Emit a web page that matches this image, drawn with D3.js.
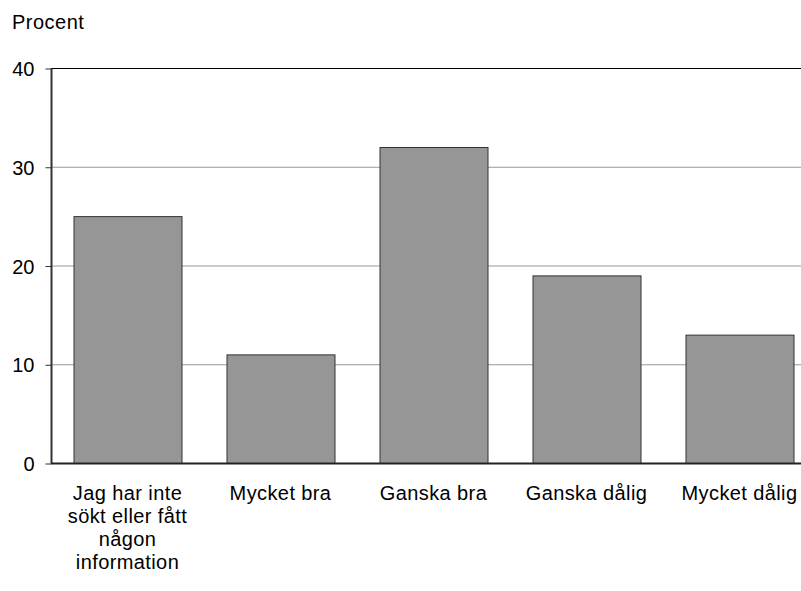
<!DOCTYPE html>
<html><head><meta charset="utf-8">
<script src="https://cdn.jsdelivr.net/npm/d3@7"></script>
<style>body{margin:0;background:#fff}svg{display:block;font-family:"Liberation Sans",Arial,sans-serif}</style>
</head><body><svg id="c" width="801" height="591"></svg>
<script>
const categories = [["Jag har inte","sökt eller fått","någon","information"],["Mycket bra"],["Ganska bra"],["Ganska dålig"],["Mycket dålig"]];
const values = [25, 11, 32, 19, 13];
const yTicks = [0, 10, 20, 30, 40];
const yLabel = "Procent";

const svg = d3.select("#c");
const x0 = 51, x1 = 816, yTop = 68, yBot = 463;
const x = d3.scaleBand().domain(d3.range(values.length)).range([x0, x1]).paddingInner(45/153).paddingOuter(22.5/153);
const y = d3.scaleLinear().domain([0, 40]).range([yBot, yTop]);

// gridlines
svg.append("g").selectAll("line").data(yTicks.filter(t => t > 0)).join("line")
  .attr("x1", x0).attr("x2", 801).attr("y1", d => y(d) + 0.5).attr("y2", d => y(d) + 0.5)
  .attr("stroke", d => d === 40 ? "#000" : "#999").attr("stroke-width", 1);

// bars
svg.append("g").selectAll("rect").data(values).join("rect")
  .attr("x", (d, i) => x(i) + 0.5).attr("y", d => y(d) + 0.5)
  .attr("width", x.bandwidth()).attr("height", d => yBot - y(d))
  .attr("fill", "#969696").attr("stroke", "#333").attr("stroke-width", 1);

// y axis
const ay = svg.append("g").attr("transform", `translate(${x0 + 0.5},0.5)`)
  .call(d3.axisLeft(y).tickValues(yTicks).tickSize(6).tickPadding(11));
ay.select(".domain").attr("stroke", "#333").attr("stroke-width", 2).attr("d", `M0,${yTop}V${yBot}`);
ay.selectAll(".tick line").attr("stroke", "#333");
ay.selectAll("text").attr("font-size", 20).attr("fill", "#000").attr("font-family", "Liberation Sans, Arial, sans-serif").attr("dy", "0.35em");

// x axis baseline
svg.append("line").attr("x1", x0).attr("x2", 801).attr("y1", yBot + 0.5).attr("y2", yBot + 0.5).attr("stroke", "#222").attr("stroke-width", 2);

// category labels
const lab = svg.append("g").selectAll("text").data(categories).join("text")
  .attr("x", (d, i) => x(i) + x.bandwidth() / 2).attr("y", 500)
  .attr("text-anchor", "middle").attr("font-size", 20).attr("letter-spacing", 0.4);
lab.selectAll("tspan").data(d => d).join("tspan")
  .attr("x", function () { return this.parentNode.getAttribute("x"); })
  .attr("dy", (d, i) => i === 0 ? 0 : 23).text(d => d);

svg.append("text").attr("x", 12).attr("y", 29).attr("font-size", 20).attr("letter-spacing", 0.5).text(yLabel);
</script></body></html>
